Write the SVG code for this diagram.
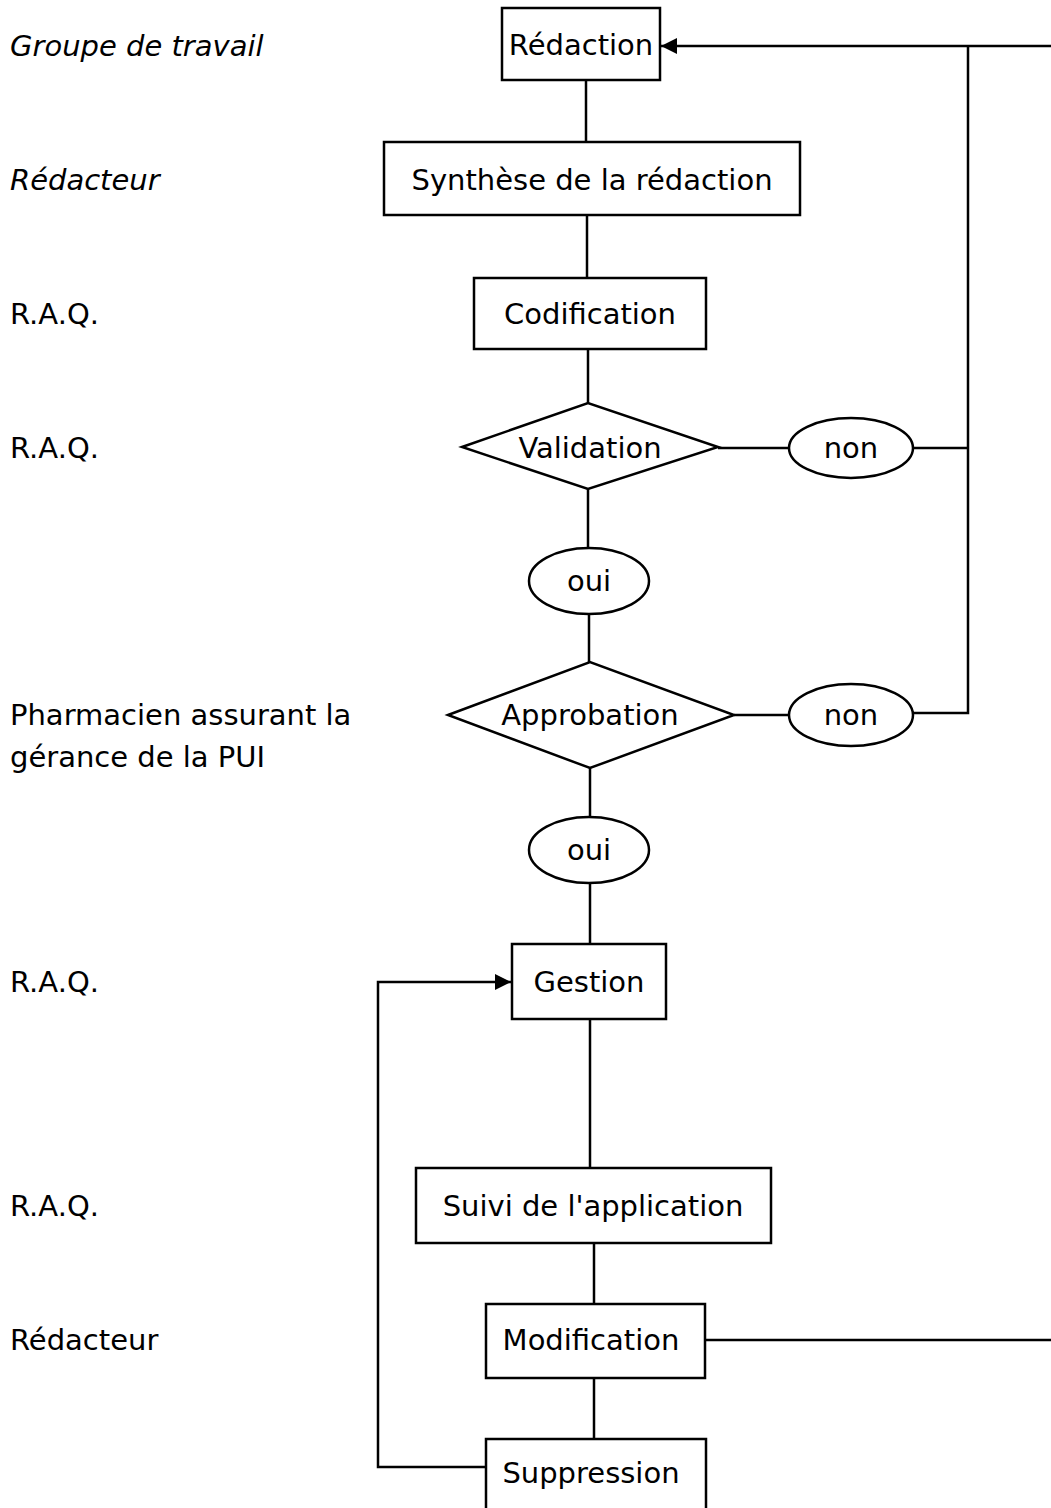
<svg xmlns="http://www.w3.org/2000/svg" width="1051" height="1508" viewBox="0 0 1051 1508">
<style>
.n{fill:#fff;stroke:#000;stroke-width:2.5}
.c{fill:none;stroke:#000;stroke-width:2.5}
text{font-family:"Comic Sans MS","DejaVu Sans",sans-serif;font-size:29px;fill:#000}
.m{text-anchor:middle;dominant-baseline:central}
.l{dominant-baseline:central}
.i{font-style:italic}
</style>
<defs>
<marker id="ah" viewBox="0 0 10 10" refX="10" refY="5" markerWidth="18" markerHeight="16" markerUnits="userSpaceOnUse" orient="auto"><path d="M0,0L10,5L0,10Z" fill="#000"/></marker>
</defs>
<rect width="1051" height="1508" fill="#fff"/>
<g id="labels">
<text class="l i" x="10" y="46">Groupe de travail</text>
<text class="l i" x="10" y="180">Rédacteur</text>
<text class="l" x="10" y="314">R.A.Q.</text>
<text class="l" x="10" y="448">R.A.Q.</text>
<text class="l" x="10" y="715">Pharmacien assurant la</text>
<text class="l" x="10" y="757">gérance de la PUI</text>
<text class="l" x="10" y="982">R.A.Q.</text>
<text class="l" x="10" y="1206">R.A.Q.</text>
<text class="l" x="10" y="1340">Rédacteur</text>
</g>
<g id="connectors">
<line class="c" x1="586" y1="80" x2="586" y2="142"/>
<line class="c" x1="587" y1="215" x2="587" y2="278"/>
<line class="c" x1="588" y1="349" x2="588" y2="403"/>
<line class="c" x1="588" y1="489" x2="588" y2="548"/>
<line class="c" x1="589" y1="614" x2="589" y2="662"/>
<line class="c" x1="590" y1="768" x2="590" y2="817"/>
<line class="c" x1="590" y1="883" x2="590" y2="944"/>
<line class="c" x1="590" y1="1019" x2="590" y2="1168"/>
<line class="c" x1="594" y1="1243" x2="594" y2="1304"/>
<line class="c" x1="594" y1="1378" x2="594" y2="1439"/>
<line class="c" x1="718" y1="448" x2="789" y2="448"/>
<line class="c" x1="913" y1="448" x2="968" y2="448"/>
<line class="c" x1="734" y1="715" x2="789" y2="715"/>
<polyline class="c" points="913,713 968,713 968,46"/>
<line class="c" x1="1051" y1="46" x2="661" y2="46" marker-end="url(#ah)"/>
<line class="c" x1="705" y1="1340" x2="1051" y2="1340"/>
<polyline class="c" points="486,1467 378,1467 378,982 511,982" marker-end="url(#ah)"/>
</g>
<g id="redaction"><rect class="n" x="502" y="8" width="158" height="72"/><text class="m" x="581" y="45">Rédaction</text></g>
<g id="synthese"><rect class="n" x="384" y="142" width="416" height="73"/><text class="m" x="592" y="180">Synthèse de la rédaction</text></g>
<g id="codification"><rect class="n" x="474" y="278" width="232" height="71"/><text class="m" x="590" y="314">Codification</text></g>
<g id="validation"><polygon class="n" points="462,447 588,403 718,447 588,489"/><text class="m" x="590" y="448">Validation</text></g>
<g id="non1"><ellipse class="n" cx="851" cy="448" rx="62" ry="30"/><text class="m" x="851" y="448">non</text></g>
<g id="oui1"><ellipse class="n" cx="589" cy="581" rx="60" ry="33"/><text class="m" x="589" y="581">oui</text></g>
<g id="approbation"><polygon class="n" points="448,715 590,662 734,715 590,768"/><text class="m" x="590" y="715">Approbation</text></g>
<g id="non2"><ellipse class="n" cx="851" cy="715" rx="62" ry="31"/><text class="m" x="851" y="715">non</text></g>
<g id="oui2"><ellipse class="n" cx="589" cy="850" rx="60" ry="33"/><text class="m" x="589" y="850">oui</text></g>
<g id="gestion"><rect class="n" x="512" y="944" width="154" height="75"/><text class="m" x="589" y="982">Gestion</text></g>
<g id="suivi"><rect class="n" x="416" y="1168" width="355" height="75"/><text class="m" x="593" y="1206">Suivi de l'application</text></g>
<g id="modification"><rect class="n" x="486" y="1304" width="219" height="74"/><text class="m" x="591" y="1340">Modification</text></g>
<g id="suppression"><rect class="n" x="486" y="1439" width="220" height="80"/><text class="m" x="591" y="1473">Suppression</text></g>
</svg>
